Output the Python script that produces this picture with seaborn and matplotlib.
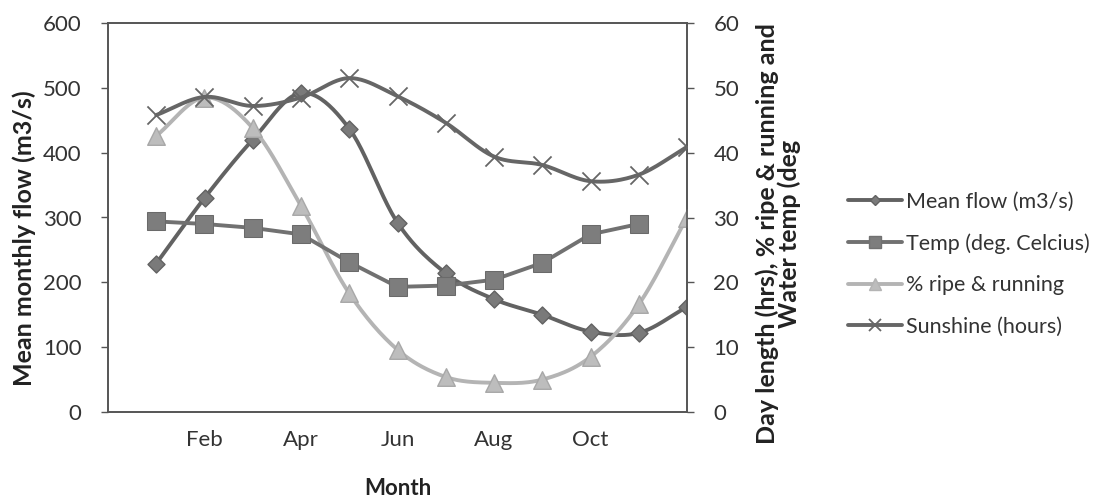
import numpy as np
import pandas as pd
import matplotlib
matplotlib.use("Agg")
import matplotlib.pyplot as plt
import seaborn as sns
from matplotlib.lines import Line2D

# ---------------- data ----------------
months = ["Jan", "Feb", "Mar", "Apr", "May", "Jun", "Jul", "Aug", "Sep", "Oct", "Nov", "Dec"]
month_pos = [1, 2, 3, 4, 5, 6, 7, 8, 9, 10, 11, 12]
mean_flow = [229, 330, 420, 492, 437, 292, 214, 174, 150, 124, 122, 162]
temp = [29.4, 29.0, 28.4, 27.4, 23.1, 19.3, 19.5, 20.4, 23.0, 27.4, 29.0]
ripe = [42.6, 48.5, 43.8, 31.8, 18.3, 9.6, 5.4, 4.5, 5.0, 8.5, 16.6, 30.0]
sunshine = [45.8, 48.6, 47.2, 48.5, 51.5, 48.7, 44.6, 39.4, 38.1, 35.6, 36.6, 40.9]
left_ticks = [0, 100, 200, 300, 400, 500, 600]
right_ticks = [0, 10, 20, 30, 40, 50, 60]
xtick_pos = [2, 4, 6, 8, 10, 12]
xtick_labels = ["Feb", "Apr", "Jun", "Aug", "Oct", ""]

sns.set_theme(style="white")
plt.rcParams["font.family"] = ["Lato", "DejaVu Sans"]

def smooth(x, y, n=24):
    """Catmull-Rom rendering curve through the data points (Excel 'smoothed line')."""
    x = np.asarray(x, float); y = np.asarray(y, float)
    px = np.concatenate([[2 * x[0] - x[1]], x, [2 * x[-1] - x[-2]]])
    py = np.concatenate([[2 * y[0] - y[1]], y, [2 * y[-1] - y[-2]]])
    xs, ys = [], []
    for i in range(1, len(px) - 2):
        t = np.linspace(0, 1, n, endpoint=False)
        for arr, out in ((px, xs), (py, ys)):
            p0, p1, p2, p3 = arr[i - 1], arr[i], arr[i + 1], arr[i + 2]
            out.append(0.5 * ((2 * p1) + (-p0 + p2) * t + (2 * p0 - 5 * p1 + 4 * p2 - p3) * t ** 2
                              + (-p0 + 3 * p1 - 3 * p2 + p3) * t ** 3))
    xs.append([x[-1]]); ys.append([y[-1]])
    return np.concatenate(xs), np.concatenate(ys)

W, H = 1101, 497
fig = plt.figure(figsize=(W / 100, H / 100), dpi=100)
ax = fig.add_axes([108 / W, 1 - 412 / H, (687 - 108) / W, (412 - 23) / H])
ax2 = ax.twinx()

c_flow, c_temp, c_ripe, c_sun = "#626262", "#717171", "#b4b4b4", "#666666"

# mean flow (left axis), smoothed
sx, sy = smooth(month_pos, mean_flow)
ax.plot(sx, sy, color=c_flow, lw=2.8, zorder=3)
sns.scatterplot(x=month_pos, y=mean_flow, ax=ax, marker="D", s=75, color="#7a7a7a",
                edgecolor=c_flow, linewidth=1, zorder=4)

# temp (right axis), straight
sns.lineplot(x=month_pos[:len(temp)], y=temp, ax=ax2, color=c_temp, lw=2.8, marker="s",
             markersize=12.5, markerfacecolor="#7d7d7d", markeredgecolor="#6a6a6a", zorder=3)
# % ripe, smoothed
sx, sy = smooth(month_pos, ripe)
ax2.plot(sx, sy, color=c_ripe, lw=2.8, zorder=2)
sns.scatterplot(x=month_pos, y=ripe, ax=ax2, marker="^", s=160, color="#bdbdbd",
                edgecolor="#a8a8a8", linewidth=1, zorder=2)
# sunshine, smoothed
sx, sy = smooth(month_pos, sunshine)
ax2.plot(sx, sy, color=c_sun, lw=2.8, zorder=3)
sns.scatterplot(x=month_pos, y=sunshine, ax=ax2, marker="x", s=170, color=c_sun,
                linewidth=1.3, zorder=4)

ax.set_xlim(0, 12)
ax.set_ylim(0, 600)
ax2.set_ylim(0, 60)
ax.set_yticks(left_ticks)
ax2.set_yticks(right_ticks)
ax.set_xticks(xtick_pos)
ax.set_xticklabels(xtick_labels)

for a in (ax, ax2):
    for s in a.spines.values():
        s.set_color("#555555")
        s.set_linewidth(1.2)
    a.tick_params(axis="both", direction="out", length=5, width=1, color="#555555",
                  labelsize=16, labelcolor="#333333", pad=6)
    a.grid(False)
ax.tick_params(axis="y", pad=14)
ax2.tick_params(axis="y", pad=14)
ax.tick_params(axis="x", pad=8)
ax.set_ylabel("")
ax2.set_ylabel("")

ax.set_xlabel("Month", fontsize=16, fontweight="bold", color="#222222", labelpad=20)
fig.text(24 / W, 1 - 238 / H, "Mean monthly flow (m3/s)", rotation=90, ha="center", va="center",
         fontsize=18, fontweight="bold", color="#222222")
fig.text(778 / W, 1 - 234 / H, "Day length (hrs), % ripe & running and\nWater temp (deg",
         rotation=90, ha="center", va="center", multialignment="center", fontsize=18,
         fontweight="bold", color="#222222", linespacing=0.9)

handles = [
    Line2D([], [], color=c_flow, lw=2.8, marker="D", markersize=5, markerfacecolor="#7a7a7a"),
    Line2D([], [], color=c_temp, lw=2.8, marker="s", markersize=8, markerfacecolor="#7d7d7d"),
    Line2D([], [], color=c_ripe, lw=2.8, marker="^", markersize=8, markerfacecolor="#bdbdbd"),
    Line2D([], [], color=c_sun, lw=2.8, marker="x", markersize=8, markeredgewidth=1.3),
]
labels = ["Mean flow (m3/s)", "Temp (deg. Celcius)", "% ripe & running", "Sunshine (hours)"]
fig.legend(handles, labels, loc="center left", bbox_to_anchor=(848 / W, 1 - 264 / H),
           frameon=False, fontsize=15.5, handlelength=2.5, handletextpad=0.2, labelspacing=1.0,
           labelcolor="#333333", borderaxespad=0, borderpad=0)

fig.savefig("out.png", dpi=100)
